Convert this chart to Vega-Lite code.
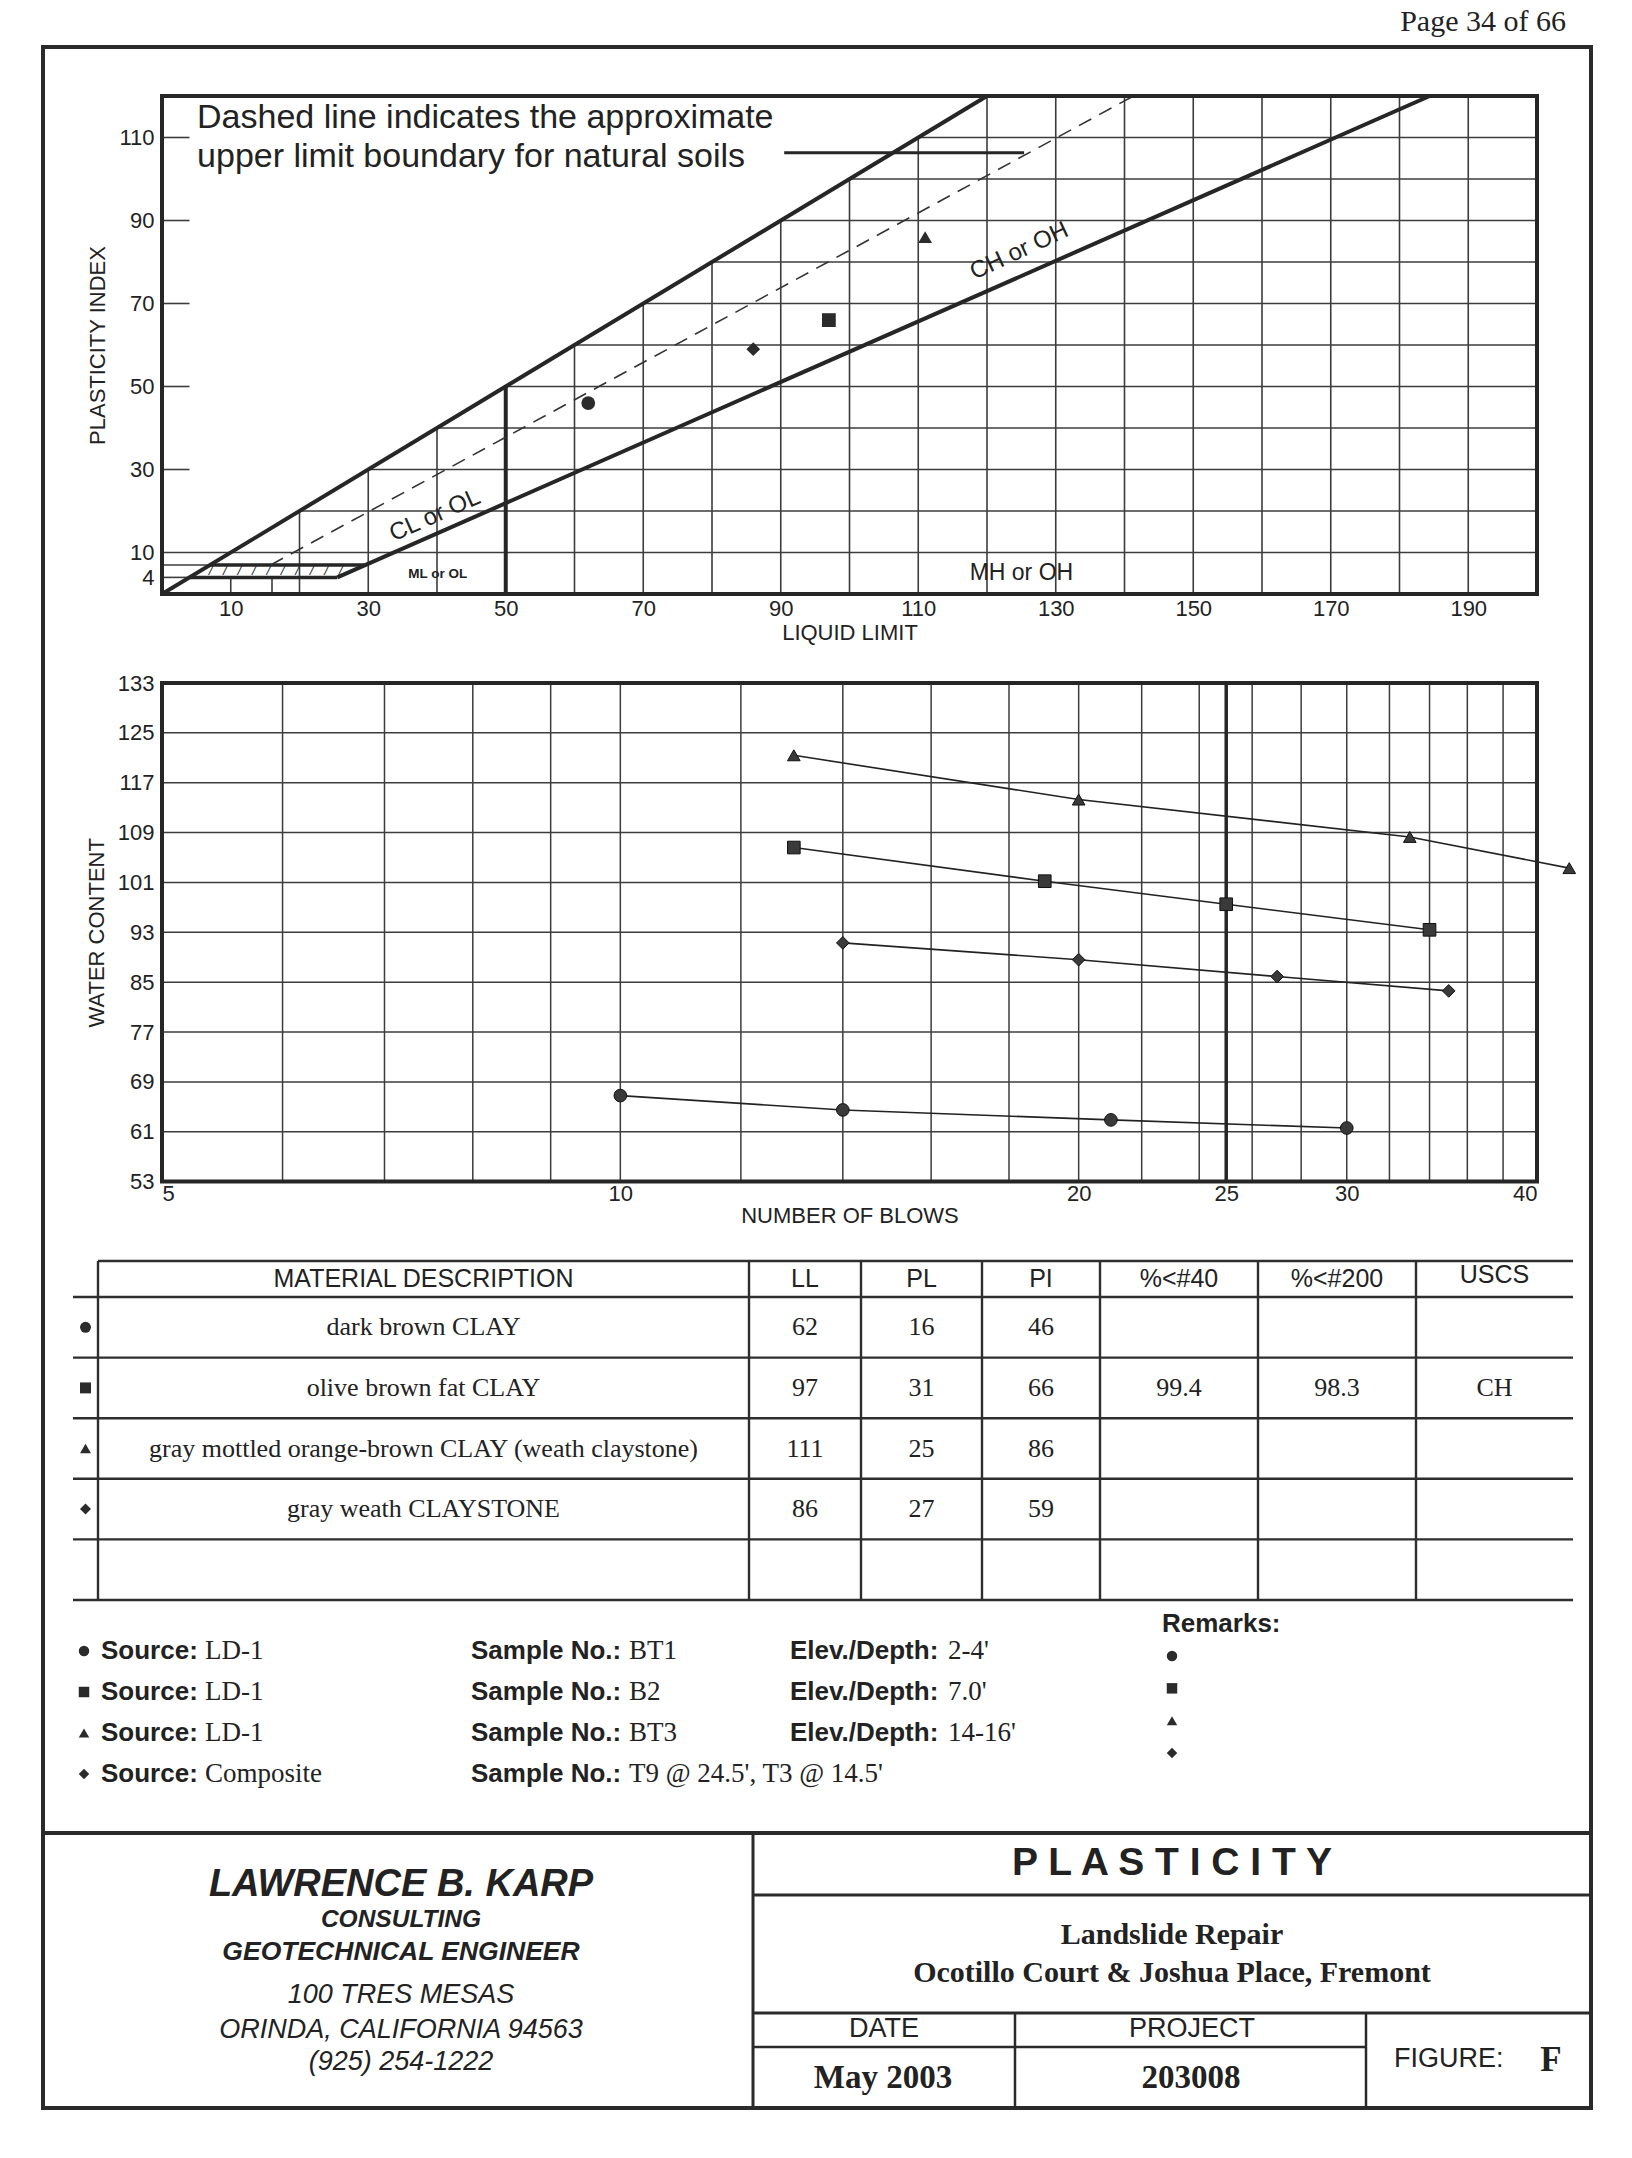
{
"$schema":"https://vega.github.io/schema/vega-lite/v6.json",
"width":1632,"height":2158,"autosize":{"type":"none"},"padding":0,"background":"#ffffff",
"config":{"view":{"stroke":null},
 "axis":{"labelFont":"Liberation Sans","titleFont":"Liberation Sans","labelColor":"#222222","titleColor":"#222222","labelFontSize":22,"titleFontSize":22,"titleFontWeight":"normal","ticks":false,"domain":false,"grid":false,"labelOverlap":false},
 "text":{"font":"Liberation Sans","color":"#222222"}},
"data":{"values":[{}]},
"datasets":{
 "samples":[
  {"n":1,"shape":"circle","desc":"dark brown CLAY","LL":62,"PL":16,"PI":46,"p40":"","p200":"","uscs":"","source":"LD-1","sample":"BT1","depth":"2-4'"},
  {"n":2,"shape":"square","desc":"olive brown fat CLAY","LL":97,"PL":31,"PI":66,"p40":"99.4","p200":"98.3","uscs":"CH","source":"LD-1","sample":"B2","depth":"7.0'"},
  {"n":3,"shape":"triangle","desc":"gray mottled orange-brown CLAY (weath claystone)","LL":111,"PL":25,"PI":86,"p40":"","p200":"","uscs":"","source":"LD-1","sample":"BT3","depth":"14-16'"},
  {"n":4,"shape":"diamond","desc":"gray weath CLAYSTONE","LL":86,"PL":27,"PI":59,"p40":"","p200":"","uscs":"","source":"Composite","sample":"T9 @ 24.5', T3 @ 14.5'","depth":""}
 ],
 "flow":[
  {"shape":"triangle","blows":13,"wc":121.4},{"shape":"triangle","blows":20,"wc":114.3},{"shape":"triangle","blows":33,"wc":108.3},{"shape":"triangle","blows":42,"wc":103.3},
  {"shape":"square","blows":13,"wc":106.6},{"shape":"square","blows":19,"wc":101.2},{"shape":"square","blows":25,"wc":97.5},{"shape":"square","blows":34,"wc":93.4},
  {"shape":"diamond","blows":14,"wc":91.3},{"shape":"diamond","blows":20,"wc":88.6},{"shape":"diamond","blows":27,"wc":85.9},{"shape":"diamond","blows":35,"wc":83.6},
  {"shape":"circle","blows":10,"wc":66.8},{"shape":"circle","blows":14,"wc":64.5},{"shape":"circle","blows":21,"wc":62.9},{"shape":"circle","blows":30,"wc":61.6}
 ],
 "llGrid":[{"ll":20},{"ll":30},{"ll":40},{"ll":50},{"ll":60},{"ll":70},{"ll":80},{"ll":90},{"ll":100},{"ll":110},{"ll":120},{"ll":130},{"ll":140},{"ll":150},{"ll":160},{"ll":170},{"ll":180},{"ll":190}],
 "llShort":[{"ll":10},{"ll":16}],
 "piGrid":[{"pi":20},{"pi":30},{"pi":40},{"pi":50},{"pi":60},{"pi":70},{"pi":80},{"pi":90},{"pi":100},{"pi":110}],
 "piTicks":[{"pi":30},{"pi":50},{"pi":70},{"pi":90},{"pi":110}],
 "blowGrid":[{"b":6},{"b":7},{"b":8},{"b":9},{"b":10},{"b":12},{"b":14},{"b":16},{"b":18},{"b":20},{"b":22},{"b":24},{"b":26},{"b":28},{"b":30},{"b":32},{"b":34},{"b":36},{"b":38}],
 "wcGrid":[{"w":61},{"w":69},{"w":77},{"w":85},{"w":93},{"w":101},{"w":109},{"w":117},{"w":125}]
},
"resolve":{"scale":{"x":"independent","y":"independent"},"axis":{"x":"independent","y":"independent"}},
"layer":[
 {"layer":[
  {"mark":{"type":"rect","filled":false,"stroke":"#2a2a2a","strokeWidth":4},
   "encoding":{"x":{"datum":43,"type":"quantitative","scale":{"domain":[0,1632],"range":[0,1632],"zero":false,"nice":false},"axis":null},"x2":{"datum":1591},
    "y":{"datum":47,"type":"quantitative","scale":{"domain":[0,2158],"range":[0,2158],"zero":false,"nice":false},"axis":null},"y2":{"datum":2108}}},
  {"mark":{"type":"rule","color":"#2a2a2a","strokeWidth":4},"encoding":{"x":{"datum":43,"type":"quantitative","axis":null},"x2":{"datum":1591},"y":{"datum":1833,"type":"quantitative","axis":null}}},
  {"mark":{"type":"rule","color":"#2a2a2a","strokeWidth":3},"encoding":{"x":{"datum":753,"type":"quantitative","axis":null},"y":{"datum":1833,"type":"quantitative","axis":null},"y2":{"datum":2108}}},
  {"mark":{"type":"rule","color":"#2a2a2a","strokeWidth":3},"encoding":{"x":{"datum":753,"type":"quantitative","axis":null},"x2":{"datum":1591},"y":{"datum":1895,"type":"quantitative","axis":null}}},
  {"mark":{"type":"rule","color":"#2a2a2a","strokeWidth":3},"encoding":{"x":{"datum":753,"type":"quantitative","axis":null},"x2":{"datum":1591},"y":{"datum":2013,"type":"quantitative","axis":null}}},
  {"mark":{"type":"rule","color":"#2a2a2a","strokeWidth":2.5},"encoding":{"x":{"datum":753,"type":"quantitative","axis":null},"x2":{"datum":1366},"y":{"datum":2047,"type":"quantitative","axis":null}}},
  {"mark":{"type":"rule","color":"#2a2a2a","strokeWidth":2.5},"encoding":{"x":{"datum":1015,"type":"quantitative","axis":null},"y":{"datum":2013,"type":"quantitative","axis":null},"y2":{"datum":2108}}},
  {"mark":{"type":"rule","color":"#2a2a2a","strokeWidth":2.5},"encoding":{"x":{"datum":1366,"type":"quantitative","axis":null},"y":{"datum":2013,"type":"quantitative","axis":null},"y2":{"datum":2108}}},
  {"mark":{"type":"text","text":"Page 34 of 66","font":"Liberation Serif","fontSize":30,"align":"right","baseline":"middle"},"encoding":{"x":{"datum":1566,"type":"quantitative","axis":null},"y":{"datum":22,"type":"quantitative","axis":null}}},
  {"mark":{"type":"text","text":"LAWRENCE B. KARP","fontSize":38,"fontWeight":"bold","fontStyle":"italic","align":"center","baseline":"middle"},"encoding":{"x":{"datum":401,"type":"quantitative","axis":null},"y":{"datum":1885,"type":"quantitative","axis":null}}},
  {"mark":{"type":"text","text":"CONSULTING","fontSize":24.5,"fontWeight":"bold","fontStyle":"italic","align":"center","baseline":"middle"},"encoding":{"x":{"datum":401,"type":"quantitative","axis":null},"y":{"datum":1920,"type":"quantitative","axis":null}}},
  {"mark":{"type":"text","text":"GEOTECHNICAL ENGINEER","fontSize":26.5,"fontWeight":"bold","fontStyle":"italic","align":"center","baseline":"middle"},"encoding":{"x":{"datum":401,"type":"quantitative","axis":null},"y":{"datum":1952,"type":"quantitative","axis":null}}},
  {"mark":{"type":"text","text":"100 TRES MESAS","fontSize":27,"fontStyle":"italic","align":"center","baseline":"middle"},"encoding":{"x":{"datum":401,"type":"quantitative","axis":null},"y":{"datum":1995,"type":"quantitative","axis":null}}},
  {"mark":{"type":"text","text":"ORINDA, CALIFORNIA 94563","fontSize":27,"fontStyle":"italic","align":"center","baseline":"middle"},"encoding":{"x":{"datum":401,"type":"quantitative","axis":null},"y":{"datum":2030,"type":"quantitative","axis":null}}},
  {"mark":{"type":"text","text":"(925) 254-1222","fontSize":27,"fontStyle":"italic","align":"center","baseline":"middle"},"encoding":{"x":{"datum":401,"type":"quantitative","axis":null},"y":{"datum":2062,"type":"quantitative","axis":null}}},
  {"mark":{"type":"text","text":"P L A S T I C I T Y","fontSize":39,"fontWeight":"bold","align":"center","baseline":"middle"},"encoding":{"x":{"datum":1172,"type":"quantitative","axis":null},"y":{"datum":1863,"type":"quantitative","axis":null}}},
  {"mark":{"type":"text","text":"Landslide Repair","font":"Liberation Serif","fontSize":30,"fontWeight":"bold","align":"center","baseline":"middle"},"encoding":{"x":{"datum":1172,"type":"quantitative","axis":null},"y":{"datum":1935,"type":"quantitative","axis":null}}},
  {"mark":{"type":"text","text":"Ocotillo Court & Joshua Place, Fremont","font":"Liberation Serif","fontSize":30,"fontWeight":"bold","align":"center","baseline":"middle"},"encoding":{"x":{"datum":1172,"type":"quantitative","axis":null},"y":{"datum":1973,"type":"quantitative","axis":null}}},
  {"mark":{"type":"text","text":"DATE","fontSize":27,"align":"center","baseline":"middle"},"encoding":{"x":{"datum":884,"type":"quantitative","axis":null},"y":{"datum":2029,"type":"quantitative","axis":null}}},
  {"mark":{"type":"text","text":"PROJECT","fontSize":27,"align":"center","baseline":"middle"},"encoding":{"x":{"datum":1192,"type":"quantitative","axis":null},"y":{"datum":2029,"type":"quantitative","axis":null}}},
  {"mark":{"type":"text","text":"May 2003","font":"Liberation Serif","fontSize":33,"fontWeight":"bold","align":"center","baseline":"middle"},"encoding":{"x":{"datum":883,"type":"quantitative","axis":null},"y":{"datum":2078,"type":"quantitative","axis":null}}},
  {"mark":{"type":"text","text":"203008","font":"Liberation Serif","fontSize":33,"fontWeight":"bold","align":"center","baseline":"middle"},"encoding":{"x":{"datum":1191,"type":"quantitative","axis":null},"y":{"datum":2078,"type":"quantitative","axis":null}}},
  {"mark":{"type":"text","text":"FIGURE:","fontSize":27,"align":"left","baseline":"middle"},"encoding":{"x":{"datum":1394,"type":"quantitative","axis":null},"y":{"datum":2059,"type":"quantitative","axis":null}}},
  {"mark":{"type":"text","text":"F","font":"Liberation Serif","fontSize":35,"fontWeight":"bold","align":"center","baseline":"middle"},"encoding":{"x":{"datum":1551,"type":"quantitative","axis":null},"y":{"datum":2060,"type":"quantitative","axis":null}}}
 ]},
 {"layer":[
  {"data":{"name":"llGrid"},"transform":[{"filter":"datum.ll <= 120"}],"mark":{"type":"rule","color":"#3c3c3c","strokeWidth":1.6},
   "encoding":{"x":{"field":"ll","type":"quantitative","scale":{"domain":[0,200],"range":[162,1537],"zero":false,"nice":false},
     "axis":{"orient":"bottom","offset":-1564,"values":[10,30,50,70,90,110,130,150,170,190],"title":"LIQUID LIMIT","labelPadding":4,"titlePadding":3}},
    "y":{"field":"ll","type":"quantitative","scale":{"domain":[0,120],"range":[594,96],"zero":false,"nice":false},
     "axis":{"orient":"left","offset":-162,"values":[4,10,30,50,70,90,110],"title":"PLASTICITY INDEX","labelPadding":8,"titlePadding":9}},
    "y2":{"datum":0}}},
  {"data":{"name":"llGrid"},"transform":[{"filter":"datum.ll > 120"}],"mark":{"type":"rule","color":"#3c3c3c","strokeWidth":1.6},
   "encoding":{"x":{"field":"ll","type":"quantitative"},"y":{"datum":0,"type":"quantitative"},"y2":{"datum":120}}},
  {"data":{"name":"llShort"},"mark":{"type":"rule","color":"#3c3c3c","strokeWidth":1.6},
   "encoding":{"x":{"field":"ll","type":"quantitative"},"y":{"datum":0,"type":"quantitative"},"y2":{"datum":4}}},
  {"data":{"name":"piGrid"},"mark":{"type":"rule","color":"#3c3c3c","strokeWidth":1.6},
   "encoding":{"x":{"field":"pi","type":"quantitative"},"x2":{"datum":200},"y":{"field":"pi","type":"quantitative"}}},
  {"mark":{"type":"rule","color":"#3c3c3c","strokeWidth":1.6},"encoding":{"x":{"datum":0,"type":"quantitative"},"x2":{"datum":200},"y":{"datum":10,"type":"quantitative"}}},
  {"data":{"name":"piTicks"},"mark":{"type":"rule","color":"#3c3c3c","strokeWidth":1.6},
   "encoding":{"x":{"datum":0,"type":"quantitative"},"x2":{"datum":4},"y":{"field":"pi","type":"quantitative"}}},
  {"mark":{"type":"rule","color":"#3c3c3c","strokeWidth":1.6},"encoding":{"x":{"datum":0,"type":"quantitative"},"x2":{"datum":7},"y":{"datum":7,"type":"quantitative"}}},
  {"mark":{"type":"rule","color":"#3c3c3c","strokeWidth":1.6},"encoding":{"x":{"datum":0,"type":"quantitative"},"x2":{"datum":4},"y":{"datum":4,"type":"quantitative"}}},
  {"mark":{"type":"rule","color":"#262626","strokeWidth":3.5},"encoding":{"x":{"datum":7,"type":"quantitative"},"x2":{"datum":29.6},"y":{"datum":7,"type":"quantitative"}}},
  {"mark":{"type":"rule","color":"#262626","strokeWidth":3.5},"encoding":{"x":{"datum":4,"type":"quantitative"},"x2":{"datum":25.5},"y":{"datum":4,"type":"quantitative"}}},
  {"mark":{"type":"text","text":"/\u00a0\u00a0\u00a0/\u00a0\u00a0\u00a0/\u00a0\u00a0\u00a0/\u00a0\u00a0\u00a0/\u00a0\u00a0\u00a0/\u00a0\u00a0\u00a0/\u00a0\u00a0\u00a0/\u00a0\u00a0\u00a0/\u00a0\u00a0\u00a0/","fontSize":13,"align":"center","baseline":"middle","fontStyle":"italic"},"encoding":{"x":{"datum":16.5,"type":"quantitative"},"y":{"datum":5.5,"type":"quantitative"}}},
  {"mark":{"type":"rule","color":"#262626","strokeWidth":4},"encoding":{"x":{"datum":0,"type":"quantitative"},"y":{"datum":0,"type":"quantitative"},"x2":{"datum":120},"y2":{"datum":120}}},
  {"mark":{"type":"rule","color":"#262626","strokeWidth":4},"encoding":{"x":{"datum":25.5,"type":"quantitative"},"y":{"datum":4,"type":"quantitative"},"x2":{"datum":184.4},"y2":{"datum":120}}},
  {"mark":{"type":"rule","color":"#262626","strokeWidth":4},"encoding":{"x":{"datum":50,"type":"quantitative"},"y":{"datum":0,"type":"quantitative"},"y2":{"datum":50}}},
  {"mark":{"type":"rule","color":"#333333","strokeWidth":1.6,"strokeDash":[14,9]},"encoding":{"x":{"datum":15.8,"type":"quantitative"},"y":{"datum":7,"type":"quantitative"},"x2":{"datum":141.3},"y2":{"datum":120}}},
  {"mark":{"type":"rule","color":"#262626","strokeWidth":3},"encoding":{"x":{"datum":90.5,"type":"quantitative"},"x2":{"datum":125.4},"y":{"datum":106.3,"type":"quantitative"}}},
  {"mark":{"type":"rect","filled":false,"stroke":"#262626","strokeWidth":4},"encoding":{"x":{"datum":0,"type":"quantitative"},"x2":{"datum":200},"y":{"datum":0,"type":"quantitative"},"y2":{"datum":120}}},
  {"mark":{"type":"text","text":"Dashed line indicates the approximate","fontSize":34,"align":"left","baseline":"alphabetic"},"encoding":{"x":{"datum":5.1,"type":"quantitative"},"y":{"datum":112.4,"type":"quantitative"}}},
  {"mark":{"type":"text","text":"upper limit boundary for natural soils","fontSize":34,"align":"left","baseline":"alphabetic"},"encoding":{"x":{"datum":5.1,"type":"quantitative"},"y":{"datum":102.9,"type":"quantitative"}}},
  {"mark":{"type":"text","text":"CL or OL","fontSize":24,"angle":336,"align":"center","baseline":"middle"},"encoding":{"x":{"datum":39.7,"type":"quantitative"},"y":{"datum":18.9,"type":"quantitative"}}},
  {"mark":{"type":"text","text":"CH or OH","fontSize":24,"angle":335,"align":"center","baseline":"middle"},"encoding":{"x":{"datum":124.7,"type":"quantitative"},"y":{"datum":82.6,"type":"quantitative"}}},
  {"mark":{"type":"text","text":"ML or OL","fontSize":13.5,"fontWeight":"bold","align":"center","baseline":"middle"},"encoding":{"x":{"datum":40.1,"type":"quantitative"},"y":{"datum":4.7,"type":"quantitative"}}},
  {"mark":{"type":"text","text":"MH or OH","fontSize":23,"align":"center","baseline":"middle"},"encoding":{"x":{"datum":125,"type":"quantitative"},"y":{"datum":5.1,"type":"quantitative"}}},
  {"data":{"name":"samples"},"mark":{"type":"point","filled":true,"size":190,"color":"#2b2b2b","opacity":1},
   "encoding":{"x":{"field":"LL","type":"quantitative"},"y":{"field":"PI","type":"quantitative"},
    "shape":{"field":"shape","type":"nominal","scale":{"domain":["circle","square","triangle","diamond"],"range":["circle","square","triangle-up","diamond"]},"legend":null}}}
 ]},
 {"layer":[
  {"data":{"name":"blowGrid"},"mark":{"type":"rule","color":"#3c3c3c","strokeWidth":1.5},
   "encoding":{"x":{"field":"b","type":"quantitative","scale":{"type":"log","domain":[5,40],"range":[162,1537],"zero":false,"nice":false},
     "axis":{"orient":"bottom","offset":-976.4,"values":[5,10,20,25,30,40],"format":"d","title":"NUMBER OF BLOWS","labelPadding":2,"titlePadding":1}},
    "y":{"datum":53,"type":"quantitative","scale":{"domain":[53,133],"range":[1181.6,683],"zero":false,"nice":false},
     "axis":{"orient":"left","offset":-162,"values":[53,61,69,77,85,93,101,109,117,125,133],"title":"WATER CONTENT","labelPadding":8,"titlePadding":9}},
    "y2":{"datum":133}}},
  {"data":{"name":"wcGrid"},"mark":{"type":"rule","color":"#3c3c3c","strokeWidth":1.5},
   "encoding":{"x":{"datum":5,"type":"quantitative"},"x2":{"datum":40},"y":{"field":"w","type":"quantitative"}}},
  {"mark":{"type":"rule","color":"#262626","strokeWidth":3.5},"encoding":{"x":{"datum":25,"type":"quantitative"},"y":{"datum":53,"type":"quantitative"},"y2":{"datum":133}}},
  {"mark":{"type":"rect","filled":false,"stroke":"#262626","strokeWidth":4},"encoding":{"x":{"datum":5,"type":"quantitative"},"x2":{"datum":40},"y":{"datum":53,"type":"quantitative"},"y2":{"datum":133}}},
  {"data":{"name":"flow"},"mark":{"type":"line","color":"#222222","strokeWidth":1.6},
   "encoding":{"x":{"field":"blows","type":"quantitative"},"y":{"field":"wc","type":"quantitative"},"detail":{"field":"shape","type":"nominal"},"order":{"field":"blows","type":"quantitative"}}},
  {"data":{"name":"flow"},"mark":{"type":"point","filled":true,"size":160,"color":"#3a3a3a","stroke":"#111111","strokeWidth":1,"opacity":1},
   "encoding":{"x":{"field":"blows","type":"quantitative"},"y":{"field":"wc","type":"quantitative"},
    "shape":{"field":"shape","type":"nominal","scale":{"domain":["circle","square","triangle","diamond"],"range":["circle","square","triangle-up","diamond"]},"legend":null}}}
 ]},
 {"layer":[
  {"mark":{"type":"rule","color":"#2e2e2e","strokeWidth":2.4},"encoding":{"x":{"datum":0.5,"type":"quantitative","scale":{"domain":[-0.5,0.5,1.5,2.5,3.5,4.5,5.5,6.5,7.5],"range":[73,98,749,861,982,1100,1258,1416,1573],"zero":false,"nice":false},"axis":null},"x2":{"datum":7.5},
    "y":{"datum":-0.5,"type":"quantitative","scale":{"domain":[-0.5,0.5,5.5],"range":[1261,1297,1600],"zero":false,"nice":false},"axis":null}}},
  {"mark":{"type":"rule","color":"#2e2e2e","strokeWidth":2.4},"encoding":{"x":{"datum":-0.5,"type":"quantitative","axis":null},"x2":{"datum":7.5},"y":{"datum":0.5,"type":"quantitative","axis":null}}},
  {"mark":{"type":"rule","color":"#2e2e2e","strokeWidth":2.4},"encoding":{"x":{"datum":-0.5,"type":"quantitative","axis":null},"x2":{"datum":7.5},"y":{"datum":1.5,"type":"quantitative","axis":null}}},
  {"mark":{"type":"rule","color":"#2e2e2e","strokeWidth":2.4},"encoding":{"x":{"datum":-0.5,"type":"quantitative","axis":null},"x2":{"datum":7.5},"y":{"datum":2.5,"type":"quantitative","axis":null}}},
  {"mark":{"type":"rule","color":"#2e2e2e","strokeWidth":2.4},"encoding":{"x":{"datum":-0.5,"type":"quantitative","axis":null},"x2":{"datum":7.5},"y":{"datum":3.5,"type":"quantitative","axis":null}}},
  {"mark":{"type":"rule","color":"#2e2e2e","strokeWidth":2.4},"encoding":{"x":{"datum":-0.5,"type":"quantitative","axis":null},"x2":{"datum":7.5},"y":{"datum":4.5,"type":"quantitative","axis":null}}},
  {"mark":{"type":"rule","color":"#2e2e2e","strokeWidth":2.4},"encoding":{"x":{"datum":-0.5,"type":"quantitative","axis":null},"x2":{"datum":7.5},"y":{"datum":5.5,"type":"quantitative","axis":null}}},
  {"mark":{"type":"rule","color":"#2e2e2e","strokeWidth":2.4},"encoding":{"x":{"datum":0.5,"type":"quantitative","axis":null},"y":{"datum":-0.5,"type":"quantitative","axis":null},"y2":{"datum":5.5}}},
  {"mark":{"type":"rule","color":"#2e2e2e","strokeWidth":2.4},"encoding":{"x":{"datum":1.5,"type":"quantitative","axis":null},"y":{"datum":-0.5,"type":"quantitative","axis":null},"y2":{"datum":5.5}}},
  {"mark":{"type":"rule","color":"#2e2e2e","strokeWidth":2.4},"encoding":{"x":{"datum":2.5,"type":"quantitative","axis":null},"y":{"datum":-0.5,"type":"quantitative","axis":null},"y2":{"datum":5.5}}},
  {"mark":{"type":"rule","color":"#2e2e2e","strokeWidth":2.4},"encoding":{"x":{"datum":3.5,"type":"quantitative","axis":null},"y":{"datum":-0.5,"type":"quantitative","axis":null},"y2":{"datum":5.5}}},
  {"mark":{"type":"rule","color":"#2e2e2e","strokeWidth":2.4},"encoding":{"x":{"datum":4.5,"type":"quantitative","axis":null},"y":{"datum":-0.5,"type":"quantitative","axis":null},"y2":{"datum":5.5}}},
  {"mark":{"type":"rule","color":"#2e2e2e","strokeWidth":2.4},"encoding":{"x":{"datum":5.5,"type":"quantitative","axis":null},"y":{"datum":-0.5,"type":"quantitative","axis":null},"y2":{"datum":5.5}}},
  {"mark":{"type":"rule","color":"#2e2e2e","strokeWidth":2.4},"encoding":{"x":{"datum":6.5,"type":"quantitative","axis":null},"y":{"datum":-0.5,"type":"quantitative","axis":null},"y2":{"datum":5.5}}},
  {"mark":{"type":"text","text":"MATERIAL DESCRIPTION","fontSize":25,"align":"center","baseline":"middle"},"encoding":{"x":{"datum":1,"type":"quantitative","axis":null},"y":{"datum":0,"type":"quantitative","axis":null}}},
  {"mark":{"type":"text","text":"LL","fontSize":25,"align":"center","baseline":"middle"},"encoding":{"x":{"datum":2,"type":"quantitative","axis":null},"y":{"datum":0,"type":"quantitative","axis":null}}},
  {"mark":{"type":"text","text":"PL","fontSize":25,"align":"center","baseline":"middle"},"encoding":{"x":{"datum":3,"type":"quantitative","axis":null},"y":{"datum":0,"type":"quantitative","axis":null}}},
  {"mark":{"type":"text","text":"PI","fontSize":25,"align":"center","baseline":"middle"},"encoding":{"x":{"datum":4,"type":"quantitative","axis":null},"y":{"datum":0,"type":"quantitative","axis":null}}},
  {"mark":{"type":"text","text":"%<#40","fontSize":25,"align":"center","baseline":"middle"},"encoding":{"x":{"datum":5,"type":"quantitative","axis":null},"y":{"datum":0,"type":"quantitative","axis":null}}},
  {"mark":{"type":"text","text":"%<#200","fontSize":25,"align":"center","baseline":"middle"},"encoding":{"x":{"datum":6,"type":"quantitative","axis":null},"y":{"datum":0,"type":"quantitative","axis":null}}},
  {"mark":{"type":"text","text":"USCS","fontSize":25,"align":"center","baseline":"middle"},"encoding":{"x":{"datum":7,"type":"quantitative","axis":null},"y":{"datum":-0.1,"type":"quantitative","axis":null}}},
  {"data":{"name":"samples"},"mark":{"type":"point","filled":true,"size":120,"color":"#2b2b2b","opacity":1},
   "encoding":{"x":{"datum":0,"type":"quantitative","axis":null},"y":{"field":"n","type":"quantitative","axis":null},
    "shape":{"field":"shape","type":"nominal","scale":{"domain":["circle","square","triangle","diamond"],"range":["circle","square","triangle-up","diamond"]},"legend":null}}},
  {"data":{"name":"samples"},"mark":{"type":"text","font":"Liberation Serif","fontSize":26,"align":"center","baseline":"middle"},"encoding":{"x":{"datum":1,"type":"quantitative","axis":null},"y":{"field":"n","type":"quantitative","axis":null},"text":{"field":"desc","type":"nominal"}}},
  {"data":{"name":"samples"},"mark":{"type":"text","font":"Liberation Serif","fontSize":26,"align":"center","baseline":"middle"},"encoding":{"x":{"datum":2,"type":"quantitative","axis":null},"y":{"field":"n","type":"quantitative","axis":null},"text":{"field":"LL","type":"nominal"}}},
  {"data":{"name":"samples"},"mark":{"type":"text","font":"Liberation Serif","fontSize":26,"align":"center","baseline":"middle"},"encoding":{"x":{"datum":3,"type":"quantitative","axis":null},"y":{"field":"n","type":"quantitative","axis":null},"text":{"field":"PL","type":"nominal"}}},
  {"data":{"name":"samples"},"mark":{"type":"text","font":"Liberation Serif","fontSize":26,"align":"center","baseline":"middle"},"encoding":{"x":{"datum":4,"type":"quantitative","axis":null},"y":{"field":"n","type":"quantitative","axis":null},"text":{"field":"PI","type":"nominal"}}},
  {"data":{"name":"samples"},"mark":{"type":"text","font":"Liberation Serif","fontSize":26,"align":"center","baseline":"middle"},"encoding":{"x":{"datum":5,"type":"quantitative","axis":null},"y":{"field":"n","type":"quantitative","axis":null},"text":{"field":"p40","type":"nominal"}}},
  {"data":{"name":"samples"},"mark":{"type":"text","font":"Liberation Serif","fontSize":26,"align":"center","baseline":"middle"},"encoding":{"x":{"datum":6,"type":"quantitative","axis":null},"y":{"field":"n","type":"quantitative","axis":null},"text":{"field":"p200","type":"nominal"}}},
  {"data":{"name":"samples"},"mark":{"type":"text","font":"Liberation Serif","fontSize":26,"align":"center","baseline":"middle"},"encoding":{"x":{"datum":7,"type":"quantitative","axis":null},"y":{"field":"n","type":"quantitative","axis":null},"text":{"field":"uscs","type":"nominal"}}}
 ]},
 {"layer":[
  {"data":{"name":"samples"},"mark":{"type":"point","filled":true,"size":110,"color":"#2b2b2b","opacity":1},
   "encoding":{"x":{"datum":0,"type":"quantitative","scale":{"domain":[0,1,2,3,4,5,6],"range":[84,101,205,471,629,790,948],"zero":false,"nice":false},"axis":null},
    "y":{"field":"n","type":"quantitative","scale":{"domain":[1,4],"range":[1651,1774],"zero":false,"nice":false},"axis":null},
    "shape":{"field":"shape","type":"nominal","scale":{"domain":["circle","square","triangle","diamond"],"range":["circle","square","triangle-up","diamond"]},"legend":null}}},
  {"data":{"name":"samples"},"mark":{"type":"text","text":"Source:","fontSize":26,"fontWeight":"bold","align":"left","baseline":"middle"},"encoding":{"x":{"datum":1,"type":"quantitative","axis":null},"y":{"field":"n","type":"quantitative","axis":null}}},
  {"data":{"name":"samples"},"mark":{"type":"text","font":"Liberation Serif","fontSize":27,"align":"left","baseline":"middle"},"encoding":{"x":{"datum":2,"type":"quantitative","axis":null},"y":{"field":"n","type":"quantitative","axis":null},"text":{"field":"source","type":"nominal"}}},
  {"data":{"name":"samples"},"mark":{"type":"text","text":"Sample No.:","fontSize":26,"fontWeight":"bold","align":"left","baseline":"middle"},"encoding":{"x":{"datum":3,"type":"quantitative","axis":null},"y":{"field":"n","type":"quantitative","axis":null}}},
  {"data":{"name":"samples"},"mark":{"type":"text","font":"Liberation Serif","fontSize":27,"align":"left","baseline":"middle"},"encoding":{"x":{"datum":4,"type":"quantitative","axis":null},"y":{"field":"n","type":"quantitative","axis":null},"text":{"field":"sample","type":"nominal"}}},
  {"data":{"name":"samples"},"transform":[{"filter":"datum.depth != ''"}],"mark":{"type":"text","text":"Elev./Depth:","fontSize":26,"fontWeight":"bold","align":"left","baseline":"middle"},"encoding":{"x":{"datum":5,"type":"quantitative","axis":null},"y":{"field":"n","type":"quantitative","axis":null}}},
  {"data":{"name":"samples"},"mark":{"type":"text","font":"Liberation Serif","fontSize":27,"align":"left","baseline":"middle"},"encoding":{"x":{"datum":6,"type":"quantitative","axis":null},"y":{"field":"n","type":"quantitative","axis":null},"text":{"field":"depth","type":"nominal"}}}
 ]},
 {"layer":[
  {"mark":{"type":"text","text":"Remarks:","fontSize":26,"fontWeight":"bold","align":"left","baseline":"middle"},
   "encoding":{"x":{"datum":0,"type":"quantitative","scale":{"domain":[0,1],"range":[1162,1172],"zero":false,"nice":false},"axis":null},
    "y":{"datum":0,"type":"quantitative","scale":{"domain":[1,4],"range":[1656,1753],"zero":false,"nice":false},"axis":null}}},
  {"data":{"name":"samples"},"mark":{"type":"point","filled":true,"size":110,"color":"#2b2b2b","opacity":1},
   "encoding":{"x":{"datum":1,"type":"quantitative","axis":null},"y":{"field":"n","type":"quantitative","axis":null},
    "shape":{"field":"shape","type":"nominal","scale":{"domain":["circle","square","triangle","diamond"],"range":["circle","square","triangle-up","diamond"]},"legend":null}}}
 ]}
]
}
